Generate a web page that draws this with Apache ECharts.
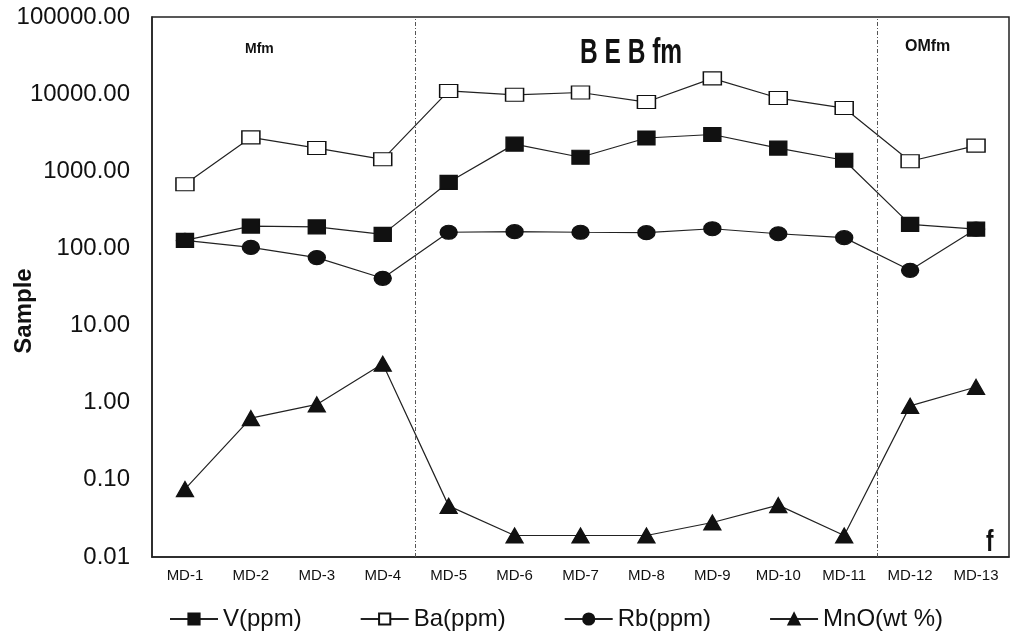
<!DOCTYPE html>
<html>
<head>
<meta charset="utf-8">
<script src="https://cdn.jsdelivr.net/npm/echarts@6/dist/echarts.min.js"></script>
<style>html,body{margin:0;padding:0;background:#fff;}#c{width:1013px;height:635px;}</style>
</head>
<body>
<div id="c"></div>
<script>
var categories = ['MD-1','MD-2','MD-3','MD-4','MD-5','MD-6','MD-7','MD-8','MD-9','MD-10','MD-11','MD-12','MD-13'];
var V_ppm  = [127, 195, 190, 152, 720, 2250, 1520, 2700, 3000, 2000, 1390, 205, 178];
var Ba_ppm = [680, 2750, 2000, 1430, 11000, 9800, 10500, 7900, 16000, 8900, 6600, 1350, 2150];
var Rb_ppm = [127, 103, 76, 41, 162, 165, 162, 160, 180, 155, 138, 52, 178];
var MnO_wt = [0.076, 0.63, 0.95, 3.2, 0.046, 0.019, 0.019, 0.019, 0.028, 0.047, 0.019, 0.91, 1.6];
var dividers = [3.5, 10.5];
var seriesNames = ['V(ppm)', 'Ba(ppm)', 'Rb(ppm)', 'MnO(wt %)'];

var chart = echarts.init(document.getElementById('c'), null, {renderer: 'canvas'});
var lineStyle = {color: '#222', width: 1.2};
function mk(name, data, symbol, size, filled) {
  return {
    name: name, type: 'line', data: data, symbol: symbol, symbolSize: size,
    showAllSymbol: true,
    lineStyle: lineStyle,
    itemStyle: {color: filled ? '#111' : '#fff', borderColor: '#111', borderWidth: 1.3},
    emphasis: {disabled: true},
    z: filled ? 3 : 2
  };
}
chart.setOption({
  animation: false,
  backgroundColor: '#fff',
  grid: {left: 152, right: 4, top: 17, bottom: 78, containLabel: false, outerBoundsMode: 'none',
    show: true, borderColor: '#222', borderWidth: 1.5, backgroundColor: 'transparent'},
  legend: {
    data: seriesNames, left: 164, top: 602, itemWidth: 48, itemHeight: 14, itemGap: 58,
    textStyle: {fontFamily: 'Liberation Sans, Arial', fontSize: 24, color: '#111'},
    inactiveColor: '#111'
  },
  xAxis: [{
    type: 'category', data: categories, boundaryGap: true,
    axisLine: {onZero: false, lineStyle: {color: '#222', width: 1.5}},
    axisTick: {show: false},
    axisLabel: {fontFamily: 'Liberation Sans, Arial', fontSize: 15, color: '#111', margin: 11, interval: 0}
  }, {
    type: 'value', min: -0.5, max: 12.5, show: false
  }],
  yAxis: {
    type: 'log', logBase: 10, min: 0.01, max: 100000,
    axisLine: {show: true, onZero: false, lineStyle: {color: '#222', width: 1.5}},
    axisTick: {show: false},
    splitLine: {show: false},
    axisLabel: {fontFamily: 'Liberation Sans, Arial', fontSize: 24, color: '#111', margin: 22,
      formatter: function (v) { return Number(v).toFixed(2); }}
  },
  series: [
    mk(seriesNames[0], V_ppm, 'rect', [17, 14], true),
    mk(seriesNames[1], Ba_ppm, 'rect', [18, 13], false),
    mk(seriesNames[2], Rb_ppm, 'circle', [17, 14], true),
    mk(seriesNames[3], MnO_wt, 'triangle', [17, 15], true),
    {
      type: 'line', xAxisIndex: 1, data: [], silent: true,
      markLine: {
        silent: true, symbol: ['none', 'none'], label: {show: false},
        lineStyle: {color: '#555', type: [4, 2, 1, 2], width: 1},
        data: dividers.map(function (d) { return {xAxis: d}; })
      }
    }
  ],
  graphic: [
    {type: 'text', x: 24, y: 311, rotation: Math.PI / 2,
      style: {text: 'Sample', font: 'bold 24px Liberation Sans, Arial', fill: '#111', align: 'center', verticalAlign: 'middle'}},
    {type: 'text', left: 245, top: 42, style: {text: 'Mfm', font: 'bold 14px Liberation Sans, Arial', fill: '#111'}},
    {type: 'text', x: 580, y: 36, scaleX: 0.7, style: {text: 'B E B fm', font: 'bold 35px Liberation Sans, Arial', fill: '#111'}},
    {type: 'text', left: 905, top: 39, style: {text: 'OMfm', font: 'bold 16px Liberation Sans, Arial', fill: '#111'}},
    {type: 'text', x: 986, y: 528, scaleX: 0.75, style: {text: 'f', font: 'bold 30px Liberation Sans, Arial', fill: '#111'}}
  ]
});
</script>
</body>
</html>
